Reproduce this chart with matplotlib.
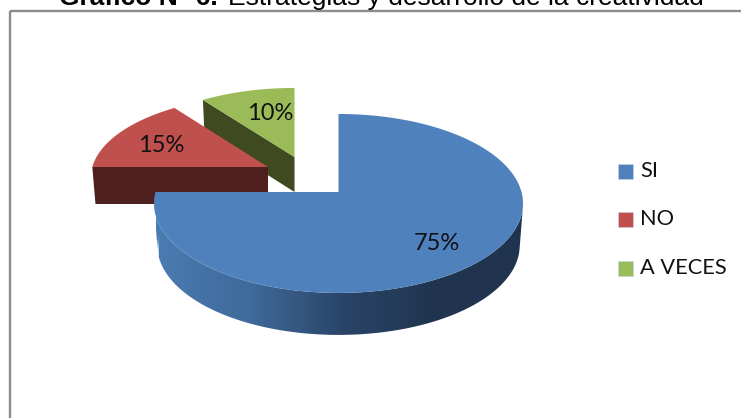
import matplotlib
matplotlib.use("Agg")
import matplotlib.pyplot as plt
import numpy as np
from matplotlib.colors import LinearSegmentedColormap
from matplotlib.patches import Polygon, Rectangle

categories = ["SI", "NO", "A VECES"]
values = [75, 15, 10]
colors = ["#4f81bd", "#c0504d", "#9bbb59"]
wall_colors = ["#20344f", "#4f1f1d", "#3f4a21"]

# pie geometry in pixels: apex, scale of the disc in x/y, wall depth
apex = [(338.5, 192), (268, 167), (294.5, 157)]
scale = [(1.0, 1.0), (0.96, 0.915), (0.94, 0.885)]
depth = [42, 37, 35]
RX, RY, PERSP = 183, 88, 0.128
TAPER = 0.018

plt.rcParams["font.family"] = ["Lato", "DejaVu Sans"]


def rim(a0, a1, idx):
    # angles are clockwise from twelve o'clock, in degrees
    t = np.radians(np.linspace(a0, a1, 240))
    u, v = np.sin(t), -np.cos(t)
    s = 1 / (1 - PERSP * v)
    return np.c_[apex[idx][0] + RX * scale[idx][0] * u * s,
                 apex[idx][1] + RY * scale[idx][1] * v * s]


def drop(pts, idx):
    # lower edge of the wall, pulled in a little towards the apex
    out = np.array(pts, float)
    out[:, 0] += (apex[idx][0] - out[:, 0]) * TAPER
    out[:, 1] += depth[idx]
    return out


fig = plt.figure(figsize=(7.41, 4.18), dpi=100)
ax = fig.add_axes([0, 0, 1, 1])
ax.set_xlim(0, 741)
ax.set_ylim(418, 0)
ax.axis("off")

# chart frame, runs off the right and bottom of the crop
ax.add_patch(Rectangle((9.5, 11), 760, 440, fill=False, ec="#8c8c8c", lw=1.7))

# title is cut by the top of the picture
ax.text(59, 5, "Gráfico N° 6.", family="Liberation Sans", weight="bold", fontsize=19,
        va="baseline", color="black")
ax.text(228, 5, "Estrategias y desarrollo de la creatividad", family="Liberation Sans",
        fontsize=19, va="baseline", color="black")

ends = np.cumsum(np.array(values) * 3.6)
starts = np.r_[0, ends[:-1]]

# back to front: green, red, blue
z = 2
for i in [2, 1]:
    arc = rim(starts[i], ends[i], i)
    a = np.array(apex[i], float)
    edge = np.array([a, arc[0]])
    ax.add_patch(Polygon(np.vstack([edge, drop(edge, i)[::-1]]), fc=wall_colors[i], ec="none", zorder=z))
    ax.add_patch(Polygon(np.vstack([a, arc]), fc=colors[i], ec="none", zorder=z + 0.5))
    z += 1

# blue side wall with the dark to light gradient
arc = rim(starts[0], ends[0], 0)
low = arc[(arc[:, 1] > 205) | (arc[:, 0] < apex[0][0])]
low = low[np.argsort(-low[:, 0])]
wall = np.vstack([low, drop(low, 0)[::-1]])
cmap = LinearSegmentedColormap.from_list("wall", ["#4a7bb2", "#3f6a9b", "#2a4568", "#20344f", "#20344f"])
grad = np.linspace(0, 1, 256).reshape(1, -1)
im = ax.imshow(grad, cmap=cmap, extent=[156, 530, 340, 190], aspect="auto", zorder=4)
patch = Polygon(wall, fc="none", ec="none")
ax.add_patch(patch)
im.set_clip_path(patch)
ax.set_xlim(0, 741)
ax.set_ylim(418, 0)
ax.add_patch(Polygon(np.vstack([apex[0], arc]), fc=colors[0], ec="none", zorder=5))

# data labels
label_pos = [(437, 244), (161, 146), (270, 113)]
for val, (x, y) in zip(values, label_pos):
    ax.text(x, y, f"{val}%", ha="center", va="center", fontsize=17, color="#111111", zorder=6)

# legend
for name, col, y in zip(categories, colors, [171, 219, 268]):
    ax.add_patch(Rectangle((617.5, y - 7.5), 15, 15, fc=col, ec="#c8d6e8", lw=0.4, zorder=6))
    ax.text(640, y, name, ha="left", va="center", fontsize=15.7, color="#111111", zorder=6)

fig.savefig("out.png", dpi=100)
